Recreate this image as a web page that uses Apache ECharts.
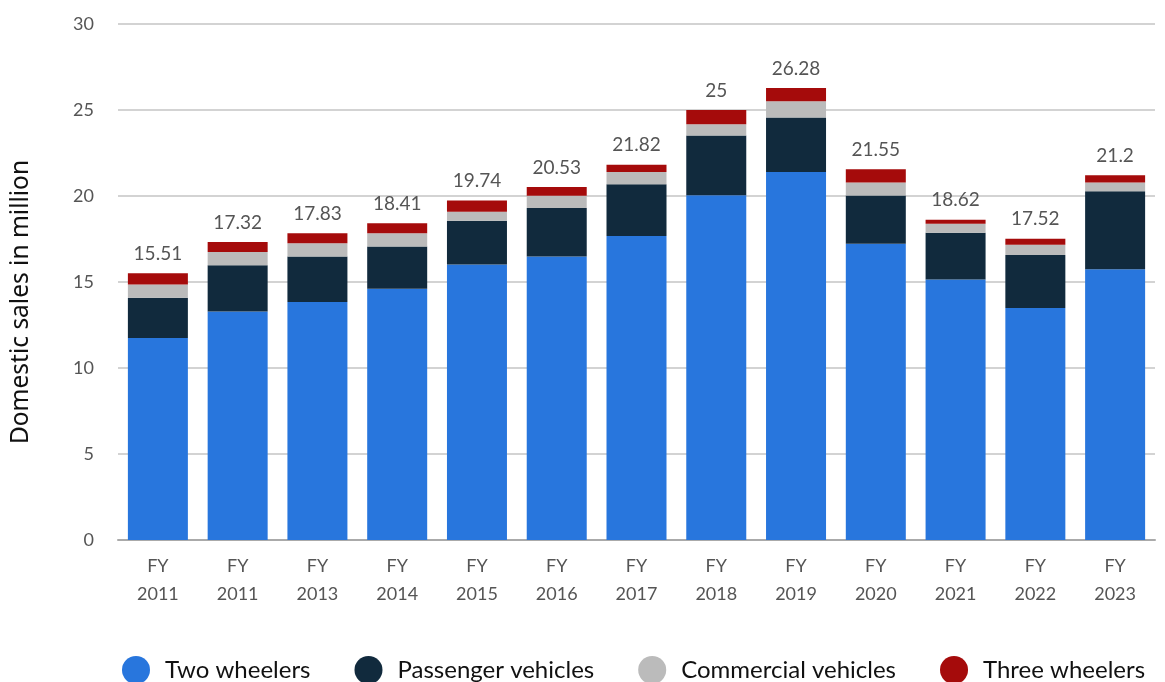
<!DOCTYPE html>
<html>
<head>
<meta charset="utf-8">
<title>Domestic automobile sales</title>
<script src="https://cdn.jsdelivr.net/npm/echarts@6/dist/echarts.min.js"></script>
<style>
  html, body { margin: 0; padding: 0; background: #ffffff; }
  #chart { width: 1165px; height: 682px; }
</style>
</head>
<body>
<div id="chart"></div>
<script>
// Fiscal years on the x axis
const categories = ['FY\n2011', 'FY\n2011', 'FY\n2013', 'FY\n2014', 'FY\n2015', 'FY\n2016', 'FY\n2017',
                    'FY\n2018', 'FY\n2019', 'FY\n2020', 'FY\n2021', 'FY\n2022', 'FY\n2023'];

// Domestic sales by segment, in million units
const twoWheelers       = [11.74, 13.28, 13.84, 14.61, 16.02, 16.48, 17.68, 20.04, 21.40, 17.22, 15.14, 13.49, 15.74];
const passengerVehicles = [2.35, 2.70, 2.64, 2.46, 2.54, 2.82, 3.01, 3.48, 3.17, 2.81, 2.72, 3.08, 4.53];
const commercialVehicles= [0.77, 0.76, 0.77, 0.76, 0.53, 0.71, 0.71, 0.65, 0.94, 0.76, 0.53, 0.59, 0.52];
const threeWheelers     = [0.65, 0.58, 0.58, 0.58, 0.65, 0.52, 0.42, 0.83, 0.77, 0.76, 0.23, 0.36, 0.41];

// Totals printed above each stack
const totals = [15.51, 17.32, 17.83, 18.41, 19.74, 20.53, 21.82, 25, 26.28, 21.55, 18.62, 17.52, 21.2];

const chart = echarts.init(document.getElementById('chart'), null, { renderer: 'canvas' });

const FONT = 'Lato, "Open Sans", sans-serif';

function barSeries(name, data, color, withTotal) {
  const s = {
    name: name,
    type: 'bar',
    stack: 'sales',
    data: data,
    barWidth: 60,
    itemStyle: { color: color },
    emphasis: { disabled: true }
  };
  if (withTotal) {
    s.label = {
      show: true,
      position: 'top',
      distance: 10,
      color: '#555555',
      fontSize: 19,
      fontFamily: FONT,
      formatter: p => String(totals[p.dataIndex])
    };
  }
  return s;
}

chart.setOption({
  animation: false,
  backgroundColor: '#ffffff',
  grid: { left: 118, right: 10, top: 24, bottom: 142 },
  legend: {
    left: 122,
    top: 656,
    padding: 0,
    icon: 'circle',
    itemWidth: 28,
    itemHeight: 28,
    itemGap: 44,
    textStyle: { fontSize: 24, color: '#111111', fontFamily: FONT, padding: [0, 0, 0, 10] },
    data: ['Two wheelers', 'Passenger vehicles', 'Commercial vehicles', 'Three wheelers']
  },
  xAxis: {
    type: 'category',
    data: categories,
    axisTick: { show: false },
    axisLine: { lineStyle: { color: '#aaaaaa', width: 2 } },
    axisLabel: {
      color: '#555555',
      fontSize: 18,
      fontFamily: FONT,
      lineHeight: 28,
      margin: 12,
      interval: 0
    }
  },
  yAxis: {
    type: 'value',
    min: 0,
    max: 30,
    interval: 5,
    name: 'Domestic sales in million',
    nameLocation: 'middle',
    nameGap: 84,
    nameTextStyle: {
      fontSize: 24.5,
      color: '#111111',
      fontFamily: '"Noto Sans", sans-serif',
      padding: [0, 40, 0, 0]
    },
    axisLine: { show: false },
    axisTick: { show: false },
    axisLabel: { color: '#555555', fontSize: 18, fontFamily: FONT, margin: 24 },
    splitLine: { lineStyle: { color: '#c4c4c4', width: 1.5 } }
  },
  series: [
    barSeries('Two wheelers', twoWheelers, '#2876dd', false),
    barSeries('Passenger vehicles', passengerVehicles, '#112a3d', false),
    barSeries('Commercial vehicles', commercialVehicles, '#bbbbbb', false),
    barSeries('Three wheelers', threeWheelers, '#a50b0b', true)
  ]
});
</script>
</body>
</html>
